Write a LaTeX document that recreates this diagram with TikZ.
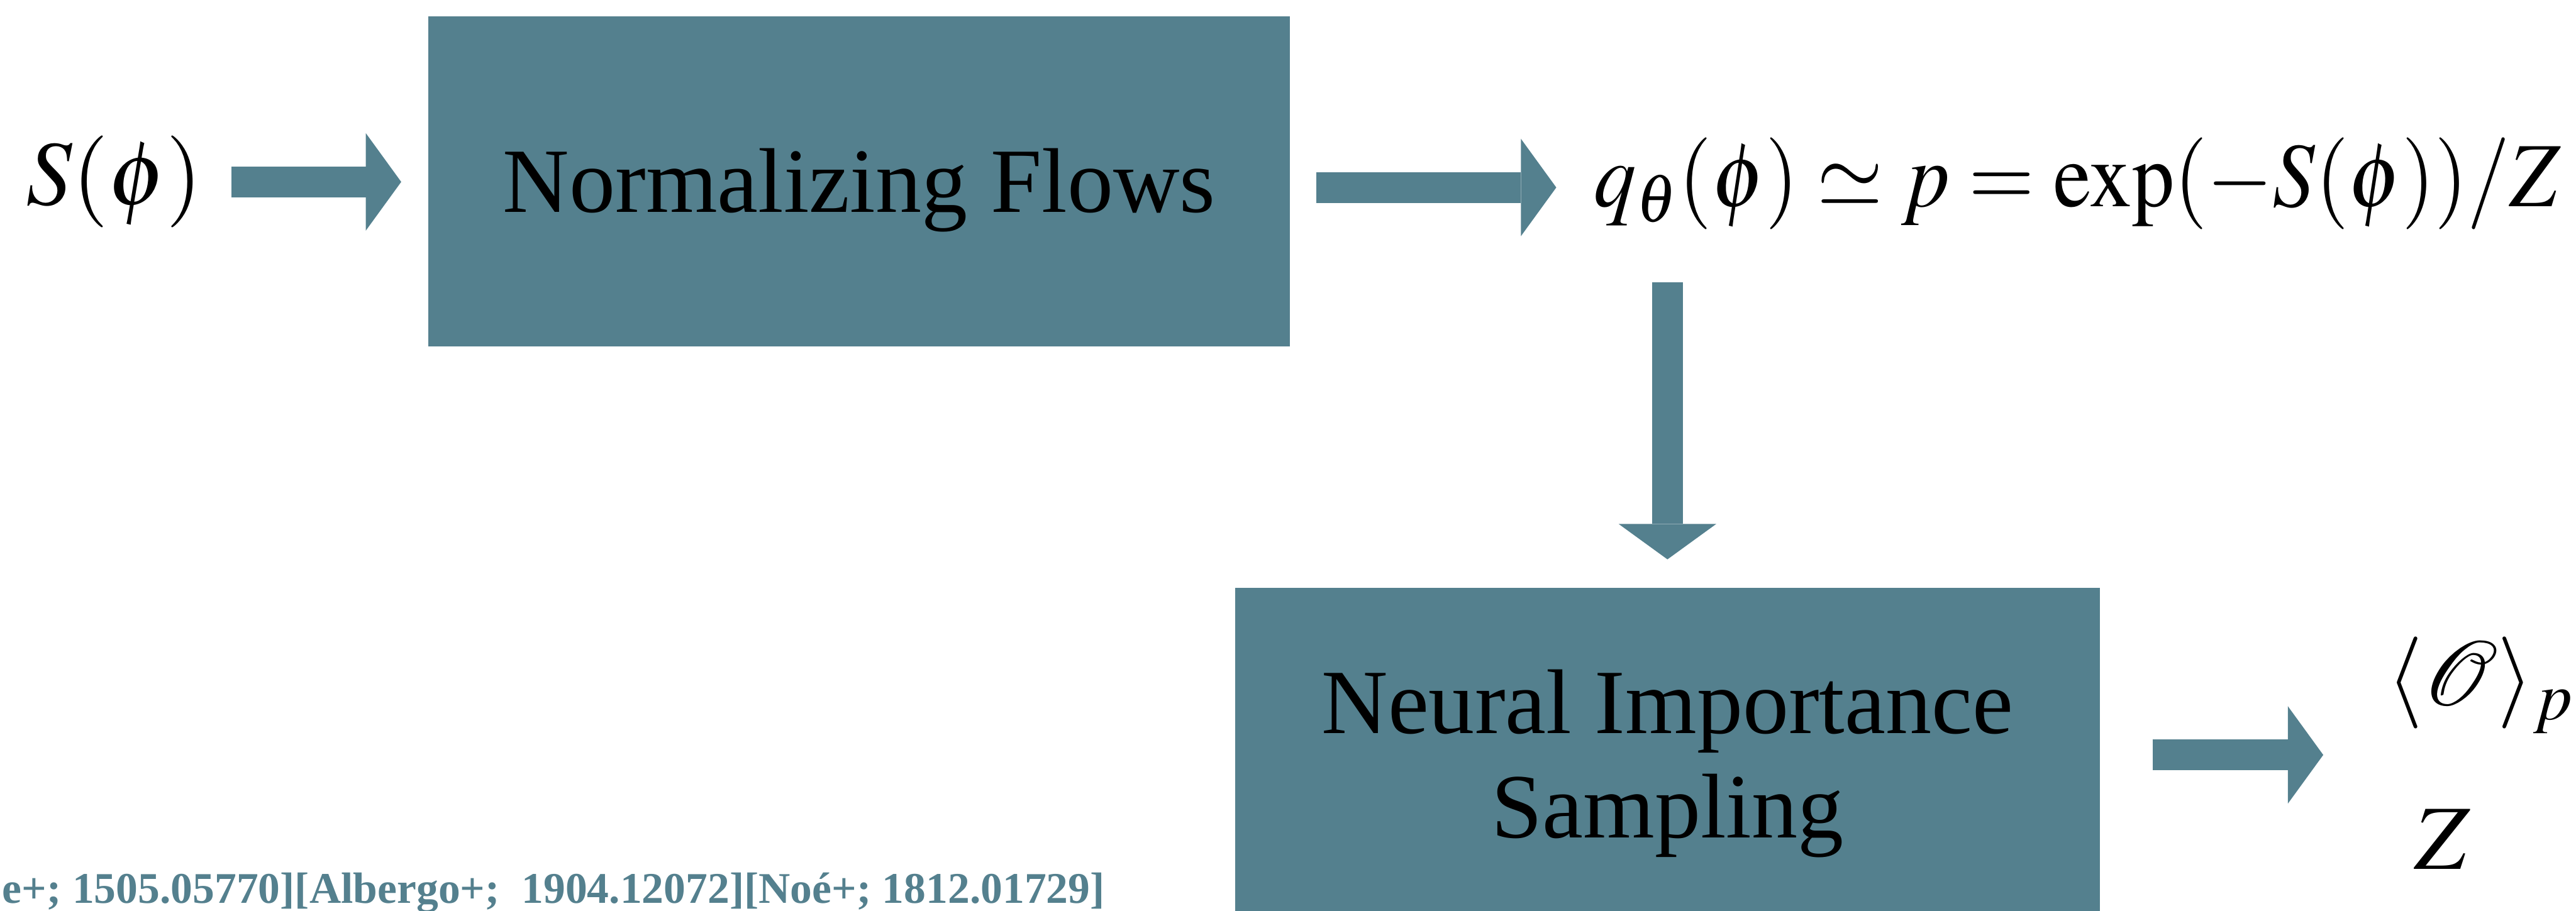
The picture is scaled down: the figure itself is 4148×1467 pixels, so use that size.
\documentclass[tikz,border=0pt]{standalone}
\usepackage{mathptmx}
\usepackage[no-math]{fontspec}
\setmainfont{Liberation Serif}
\usetikzlibrary{arrows.meta}
\definecolor{tealbox}{HTML}{54808E}
\newcommand{\bigtext}{\fontsize{14.8pt}{16.8pt}\selectfont}
\newcommand{\smalltext}{\fontsize{7.05pt}{8pt}\selectfont\bfseries}
\begin{document}
\begin{tikzpicture}[x=0.1pt,y=-0.1pt,
  box/.style={fill=tealbox, draw=none, inner sep=0pt, font=\bigtext, text=black},
  lbl/.style={inner sep=0pt, font=\bigtext, text=black},
  blockarrow/.style={line width=5pt, draw=tealbox,
    -{Triangle[length=5.7pt,width=15.7pt,line width=0pt]}}
]
\useasboundingbox (0,0) rectangle (4148,1467);
\clip (0,0) rectangle (4148,1467);

% nodes
\node[lbl, anchor=base west] (s) at (40,330) {$S(\phi)$};
\node[box, minimum width=138.7pt, minimum height=53.2pt, text height=10pt, text depth=0pt]
  (nf) at (1383.5,292) {Normalizing Flows};
\node[lbl, anchor=base west] (eq) at (2565,333)
  {\scalebox{0.92}[1]{$\thickmuskip=4mu q_\theta(\phi) \simeq p = \exp(-S(\phi))/Z$}};
\node[box, minimum width=139.2pt, minimum height=53.8pt, text height=5pt, text depth=12pt]
  (nis) at (2685,1216)
  {\begin{tabular}[t]{@{}c@{}}Neural Importance\\Sampling\end{tabular}};
\node[lbl, anchor=base west] (avg) at (3842,1137) {$\langle\mathcal{O}\rangle_p$};
\node[lbl, anchor=base] (zz) at (3933,1400) {$Z$};
\node[inner sep=0pt, anchor=base west, font=\smalltext, text=tealbox] (cite) at (2,1455)
  {e+; 1505.05770][Albergo+;\ \ 1904.12072][Noé+; 1812.01729]};

% connector tails
\coordinate (a1) at (373,293);
\coordinate (a2) at (2120,302);
\coordinate (a3) at (2685,455);
\coordinate (a4) at (3466,1216);

\draw[blockarrow, shorten >=4.2pt] (a1) -- (a1 -| nf.west);
\draw[blockarrow, shorten >=5.9pt] (a2) -- (a2 -| eq.west);
\draw[blockarrow, shorten >=4.4pt] (a3) -- (a3 |- nis.north);
\draw[blockarrow, shorten >=10.1pt] (a4) -- (a4 -| avg.west);
\end{tikzpicture}
\end{document}
